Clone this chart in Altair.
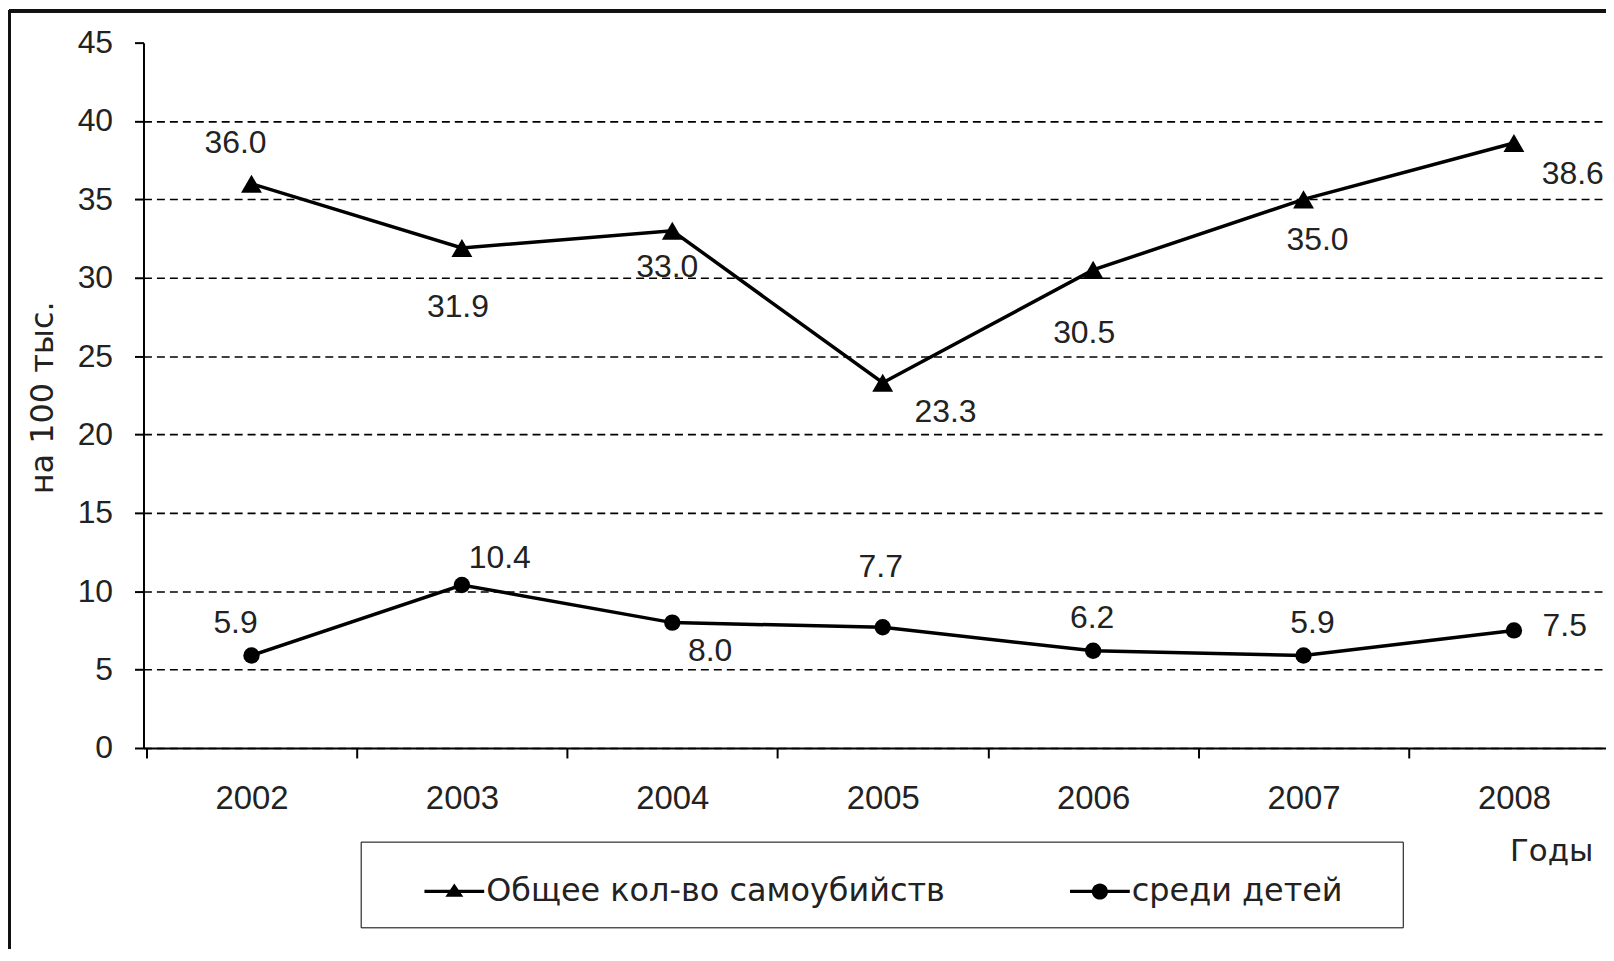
import altair as alt
import pandas as pd

# ---- data ----
years = ["2002", "2003", "2004", "2005", "2006", "2007", "2008"]
total = [36.0, 31.9, 33.0, 23.3, 30.5, 35.0, 38.6]
children = [5.9, 10.4, 8.0, 7.7, 6.2, 5.9, 7.5]
series_names = ["Общее кол-во самоубийств", "среди детей"]

# ---- label placement (pixel offsets from each point; layout only) ----
total_dx = [-16, -4, -5, 63, -9, 14, 59]
total_dy = [-41, 59, 36, 29, 63, 41, 31]
child_dx = [-16, 38, 38, -2, -1, 9, 51]
child_dy = [-33, -27, 29, -60, -33, -33, -4]

W, H = 1484, 708   # plot area; the category axis runs slightly past the visible page, as in the reference
PO = 0.0133        # small outer padding of the category bands
YMAX = 45
FONT = "Liberation Sans"
WIDE_FONT = "DejaVu Sans"
TXT = "#222222"

STEP = W / (len(years) + 2 * PO)

rows = []
for i, yr in enumerate(years):
    for name, vals, dxs, dys in (
        (series_names[0], total, total_dx, total_dy),
        (series_names[1], children, child_dx, child_dy),
    ):
        rows.append(
            dict(
                year=yr,
                series=name,
                value=vals[i],
                label=f"{vals[i]:.1f}",
                lx=i + 0.5 + dxs[i] / STEP,
                ly=vals[i] - dys[i] * YMAX / H,
            )
        )
df = pd.DataFrame(rows)

x_scale = alt.Scale(type="band", domain=years, paddingInner=0, paddingOuter=PO)
y_scale = alt.Scale(domain=[0, YMAX], nice=False, zero=True)

x_axis = alt.Axis(
    title="Годы",
    labelAngle=0,
    tickBand="extent",
    domainColor="black",
    domainWidth=2,
    tickColor="black",
    tickWidth=2,
    tickSize=10,
    labelFont=FONT,
    labelFontSize=33,
    labelColor=TXT,
    labelPadding=25,
    grid=False,
    titleFont=WIDE_FONT,
    titleFontSize=31,
    titleFontWeight="normal",
    titleColor=TXT,
    titleX=1413,
    titleY=104,
    titleAlign="center",
    titleBaseline="middle",
)
y_axis = alt.Axis(
    title="на 100 тыс.",
    values=list(range(0, 50, 5)),
    domainColor="black",
    domainWidth=2,
    tickColor="black",
    tickWidth=2,
    tickSize=9,
    labelFont=FONT,
    labelFontSize=32,
    labelColor=TXT,
    labelPadding=22,
    grid=True,
    gridColor="black",
    gridWidth=1.6,
    gridDash=[8, 5],
    gridOpacity={"condition": {"test": "datum.value >= 45", "value": 0}, "value": 1},
    titleFont=WIDE_FONT,
    titleFontSize=32,
    titleFontWeight="normal",
    titleColor=TXT,
    titleX=-101,
    titleY=356,
    titleAlign="center",
    titleBaseline="middle",
)

x_enc = alt.X("year:O", scale=x_scale, axis=x_axis)
y_enc = alt.Y("value:Q", scale=y_scale, axis=y_axis)

base = alt.Chart(df)

lines = base.mark_line(color="black", strokeWidth=3.5).encode(
    x=x_enc, y=y_enc, detail="series:N"
)

points = base.mark_point(filled=True, color="black", opacity=1).encode(
    x=x_enc,
    y=y_enc,
    shape=alt.Shape(
        "series:N",
        scale=alt.Scale(domain=series_names, range=["triangle-up", "circle"]),
        legend=None,
    ),
    size=alt.Size(
        "series:N",
        scale=alt.Scale(domain=series_names, range=[440, 270]),
        legend=None,
    ),
)

# legend symbols: a line through a marker (filled paths in unit coords, same winding)
tri_path = "M-1,-0.055H1V0.055H-1Z M0,-0.27L0.3,0.18L-0.3,0.18Z"
circ_path = "M-1,-0.055H1V0.055H-1Z M-0.27,0A0.27,0.27,0,1,1,0.27,0A0.27,0.27,0,1,1,-0.27,0Z"

legend_layer = base.mark_point(filled=True, color="black", opacity=0).encode(
    x=x_enc,
    y=y_enc,
    shape=alt.Shape(
        "series:N",
        scale=alt.Scale(domain=series_names, range=[tri_path, circ_path]),
        legend=alt.Legend(
            orient="none",
            legendX=218,
            legendY=802,
            direction="horizontal",
            title="\u2007",
            titleOrient="left",
            titleFontSize=2,
            titlePadding=44,
            labelFont=WIDE_FONT,
            labelFontSize=32,
            labelColor=TXT,
            labelLimit=900,
            labelOffset=2,
            labelExpr="indexof(datum.label, 'дет') >= 0 ? datum.label + '\u2002\u2800' : datum.label",
            symbolSize=3600,
            symbolStrokeWidth=0,
            symbolFillColor="black",
            symbolOpacity=1,
            strokeColor="black",
            fillColor="white",
            padding=20,
            columnPadding=125,
        ),
    ),
)

main = alt.layer(lines, points, legend_layer).resolve_scale(
    shape="independent", size="independent"
)

labels = base.mark_text(font=FONT, fontSize=32, color=TXT, baseline="middle", align="center").encode(
    x=alt.X(
        "lx:Q",
        scale=alt.Scale(domain=[-PO, len(years) + PO], nice=False, zero=False),
        axis=None,
    ),
    y=alt.Y("ly:Q", scale=y_scale, axis=y_axis),
    text="label:N",
)

frame_top = alt.Chart(df).mark_rule(color="#111111", strokeWidth=3).encode(
    x=alt.value(-135), x2=alt.value(W), y=alt.value(-32)
)
frame_left = alt.Chart(df).mark_rule(color="#111111", strokeWidth=3).encode(
    x=alt.value(-135), y=alt.value(-32), y2=alt.value(H + 220)
)

chart = (
    alt.layer(main, labels, frame_top, frame_left)
    .resolve_scale(x="independent")
    .properties(
        width=W,
        height=H,
        autosize="none",
        # negative right padding crops the overflowing end of the axis so the page does not scroll
        padding={"left": 136, "top": 33, "right": -16, "bottom": 200},
        background="white",
    )
    .configure_view(stroke=None)
)

chart.save("out.html", embed_options={"renderer": "svg", "actions": False})
